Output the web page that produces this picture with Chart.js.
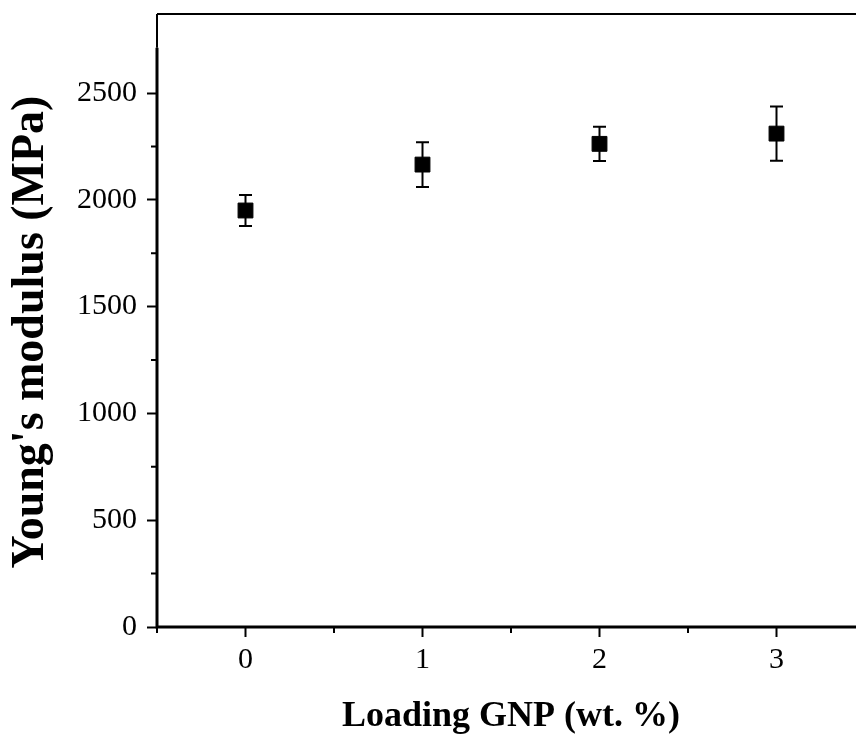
<!DOCTYPE html>
<html>
<head>
<meta charset="utf-8">
<title>Young's modulus vs GNP loading</title>
<script src="https://cdn.jsdelivr.net/npm/chart.js@4.4.1/dist/chart.umd.min.js"></script>
<style>
  html, body { margin: 0; padding: 0; background: #fff; overflow: hidden; }
  #wrap { width: 880px; height: 735px; }
</style>
</head>
<body>
<div id="wrap"><canvas id="modulusChart" width="880" height="735"></canvas></div>
<script>
// GNP loading (wt. %) and measured Young's modulus (MPa)
const loading = [0, 1, 2, 3];
const modulus = [1950, 2165, 2262, 2310];
const modulusErr = [72, 105, 80, 127];

// axis ticks
const xTicks = [0, 1, 2, 3];
const xMinorTicks = [-0.5, 0.5, 1.5, 2.5, 3.5];
const yTicks = [0, 500, 1000, 1500, 2000, 2500];
const yMinorTicks = [250, 750, 1250, 1750, 2250];
const yAxisTop = 2712; // thick part of the left axis ends here

const serif = "'Liberation Serif', 'Times New Roman', serif";
Chart.defaults.color = '#000';
Chart.defaults.font.family = serif;

// error bars + frame + minor ticks
const framePlugin = {
    id: 'frameAndErrors',
    beforeDatasetsDraw(chart) {
        const ctx = chart.ctx;
        const xs = chart.scales.x;
        const ys = chart.scales.y;
        const area = chart.chartArea;
        ctx.save();
        ctx.strokeStyle = '#000';
        ctx.lineCap = 'butt';

        // error bars
        ctx.lineWidth = 2;
        loading.forEach((v, i) => {
            const px = xs.getPixelForValue(v);
            const top = ys.getPixelForValue(modulus[i] + modulusErr[i]);
            const bot = ys.getPixelForValue(modulus[i] - modulusErr[i]);
            ctx.beginPath();
            ctx.moveTo(px, top); ctx.lineTo(px, bot);
            ctx.moveTo(px - 6.5, top); ctx.lineTo(px + 6.5, top);
            ctx.moveTo(px - 6.5, bot); ctx.lineTo(px + 6.5, bot);
            ctx.stroke();
        });

        // top frame and thin upper part of left axis
        ctx.lineWidth = 2;
        ctx.beginPath();
        ctx.moveTo(area.left, area.top);
        ctx.lineTo(area.right, area.top);
        ctx.moveTo(area.left, area.top);
        ctx.lineTo(area.left, ys.getPixelForValue(yAxisTop));
        ctx.stroke();

        // main axes
        ctx.lineWidth = 3;
        ctx.beginPath();
        ctx.moveTo(area.left, ys.getPixelForValue(yAxisTop));
        ctx.lineTo(area.left, area.bottom + 1.5);
        ctx.moveTo(area.left - 1.5, area.bottom);
        ctx.lineTo(area.right, area.bottom);
        ctx.stroke();

        // minor ticks
        ctx.lineWidth = 2;
        ctx.beginPath();
        xMinorTicks.forEach(v => {
            const px = xs.getPixelForValue(v);
            ctx.moveTo(px, area.bottom);
            ctx.lineTo(px, area.bottom + 6);
        });
        yMinorTicks.forEach(v => {
            const py = ys.getPixelForValue(v);
            ctx.moveTo(area.left, py);
            ctx.lineTo(area.left - 6, py);
        });
        ctx.stroke();
        ctx.restore();
    }
};

const ctx = document.getElementById('modulusChart').getContext('2d');
new Chart(ctx, {
    type: 'scatter',
    data: {
        datasets: [{
            data: loading.map((x, i) => ({ x: x, y: modulus[i] })),
            pointStyle: 'rect',
            pointRadius: 10.5,
            pointHoverRadius: 10.5,
            backgroundColor: '#000',
            borderColor: '#000',
            borderWidth: 1
        }]
    },
    options: {
        responsive: false,
        animation: false,
        events: [],
        layout: { padding: { left: 0, top: 14, right: 15, bottom: 0 } },
        plugins: { legend: { display: false }, tooltip: { enabled: false } },
        scales: {
            x: {
                type: 'linear',
                min: -0.5,
                max: 3.5,
                afterBuildTicks: s => { s.ticks = xTicks.map(v => ({ value: v })); },
                afterFit: s => { s.height = 108; s.paddingLeft = 0; s.paddingRight = 0; },
                border: { display: false },
                grid: { drawOnChartArea: false, drawTicks: true, tickLength: 10, tickWidth: 2, color: '#000' },
                ticks: { autoSkip: false, maxRotation: 0, padding: 5, font: { size: 30 }, callback: v => String(v) },
                title: {
                    display: true,
                    text: 'Loading GNP (wt. %)',
                    font: { size: 36, weight: 'bold', lineHeight: 1 },
                    padding: { top: 1, bottom: 0 }
                }
            },
            y: {
                type: 'linear',
                min: 0,
                max: 2870,
                afterBuildTicks: s => { s.ticks = yTicks.map(v => ({ value: v })); },
                afterFit: s => { s.width = 157; s.paddingTop = 0; s.paddingBottom = 0; },
                border: { display: false },
                grid: { drawOnChartArea: false, drawTicks: true, tickLength: 10, tickWidth: 2, color: '#000' },
                ticks: { padding: 10, font: { size: 30 }, callback: v => String(v) },
                title: {
                    display: true,
                    text: "Young's modulus (MPa)  ",
                    font: { size: 46, weight: 'bold', lineHeight: 1 },
                    padding: { top: 8, bottom: 0 }
                }
            }
        }
    },
    plugins: [framePlugin]
});
</script>
</body>
</html>
